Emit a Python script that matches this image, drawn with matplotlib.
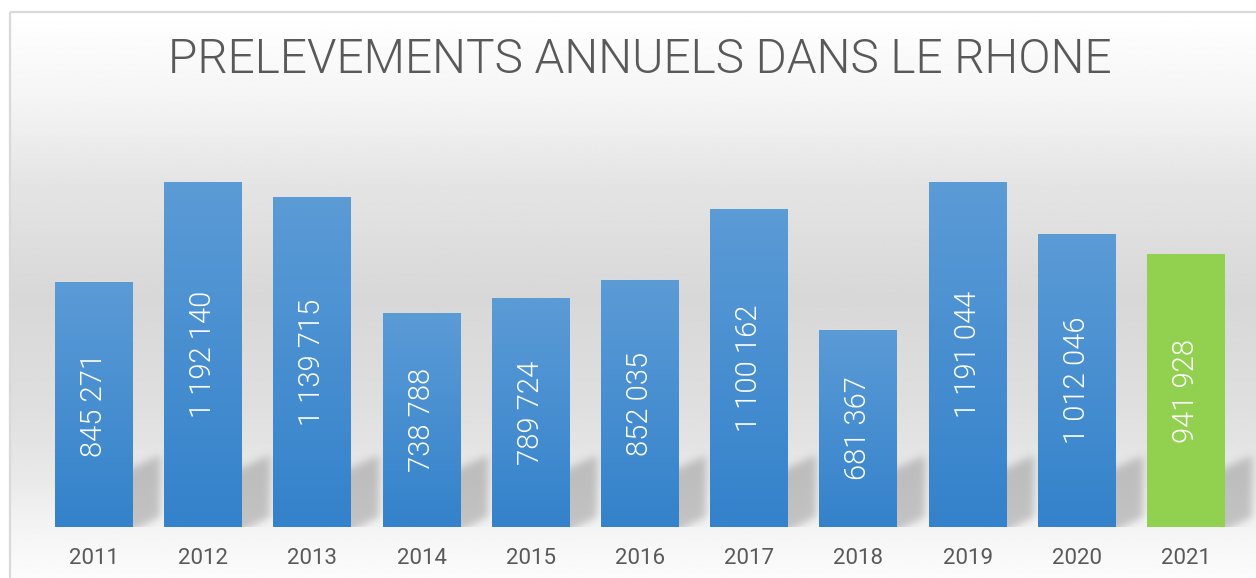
import matplotlib
import matplotlib.pyplot as plt
import numpy as np
from matplotlib.colors import LinearSegmentedColormap
from matplotlib.patches import Rectangle

matplotlib.use("Agg")

years = ["2011", "2012", "2013", "2014", "2015", "2016",
         "2017", "2018", "2019", "2020", "2021"]
volumes = [845271, 1192140, 1139715, 738788, 789724, 852035,
           1100162, 681367, 1191044, 1012046, 941928]
highlight_year = "2021"

W, H = 1256, 578
YMAX = 1400000
BAR_W = 0.714
TEXT_GREY = "#595959"

plt.rcParams["font.family"] = ["Roboto", "DejaVu Sans"]

fig = plt.figure(figsize=(W / 100, H / 100), dpi=100, facecolor="white")

# --- background panel with vertical grey gradient ---
bg = fig.add_axes([0, 0, 1, 1])
bg.axis("off")
stops = [(0.0, 1.0), (0.15, 0.96), (0.3, 0.895), (0.5, 0.845),
         (0.7, 0.875), (0.82, 0.915), (0.9, 0.955), (1.0, 0.99)]
yy = np.linspace(0, 1, 400)
vals = np.interp(yy, [s[0] for s in stops], [s[1] for s in stops])
grad = np.repeat(vals[:, None], 2, axis=1)
bg.imshow(grad, cmap="gray", vmin=0, vmax=1, extent=(10, W + 20, H + 5, 12),
          aspect="auto", interpolation="bilinear", zorder=0)
bg.add_patch(Rectangle((10, 12), W + 20, H, fill=False,
                       edgecolor="#d9d9d9", linewidth=1.6, zorder=2))

fig.text(640 / W, 1 - 60 / H, "PRELEVEMENTS ANNUELS DANS LE RHONE",
         ha="center", va="center", fontsize=34.4, color=TEXT_GREY,
         fontweight=300)

# --- main chart ---
ax = fig.add_axes([39.4 / W, (H - 527) / H, 1201.2 / W, 405.2 / H])
ax.set_facecolor("none")
for s in ax.spines.values():
    s.set_visible(False)

x = np.arange(len(years))
ax.set_xlim(-0.5, len(years) - 0.5)
ax.set_ylim(0, YMAX)

# soft perspective shadows, rasterised in figure pixels and blurred
X, Y = np.meshgrid(np.arange(W), np.arange(H))
mask = np.zeros((H, W))
for xi in x:
    x1, yb = ax.transData.transform((xi + BAR_W / 2, 0))
    base = H - yb
    dx = X - x1
    y_top = base - 60 - 0.45 * dx
    y_bot = base + 3 - 0.5 * dx
    mask[(dx > -60) & (dx < 27) & (Y > y_top) & (Y < y_bot)] = 1.0
    baseline = base

sig = 4.0
k = np.exp(-0.5 * (np.arange(-12, 13) / sig) ** 2)
k /= k.sum()
mask = np.apply_along_axis(lambda r: np.convolve(r, k, mode="same"), 1, mask)
mask = np.apply_along_axis(lambda c: np.convolve(c, k, mode="same"), 0, mask)
mask[Y >= baseline] = 0
shadow = np.zeros((H, W, 4))
shadow[..., :3] = 0.55
shadow[..., 3] = 0.47 * mask
bg.imshow(shadow, extent=(0, W, H, 0), aspect="auto", interpolation="none", zorder=1)
bg.set_xlim(0, W)
bg.set_ylim(H, 0)

blue_cmap = LinearSegmentedColormap.from_list("bl", ["#3482cb", "#5b9bd6"])
bars = ax.bar(x, volumes, width=BAR_W, color="#4a90d2", zorder=2)
for b, yr, v in zip(bars, years, volumes):
    if yr == highlight_year:
        b.set_facecolor("#92d050")
    else:
        g = np.linspace(0, 1, 100)[::-1].reshape(-1, 1)
        im = ax.imshow(g, cmap=blue_cmap, extent=(b.get_x(), b.get_x() + BAR_W, 0, v),
                       aspect="auto", interpolation="bilinear", zorder=3)
        im.set_clip_path(b)
    ax.text(b.get_x() + BAR_W / 2, v / 2, f"{v:,}".replace(",", " "),
            rotation=90, ha="center", va="center", color="white",
            fontsize=21, fontweight=300, zorder=4)

ax.set_xlim(-0.5, len(years) - 0.5)
ax.set_ylim(0, YMAX)
ax.set_yticks([])
ax.set_xticks(x)
ax.set_xticklabels(years, fontsize=16, color=TEXT_GREY)
ax.tick_params(axis="x", length=0, pad=15)

plt.savefig("out.png", dpi=100, facecolor=fig.get_facecolor())
plt.close()
